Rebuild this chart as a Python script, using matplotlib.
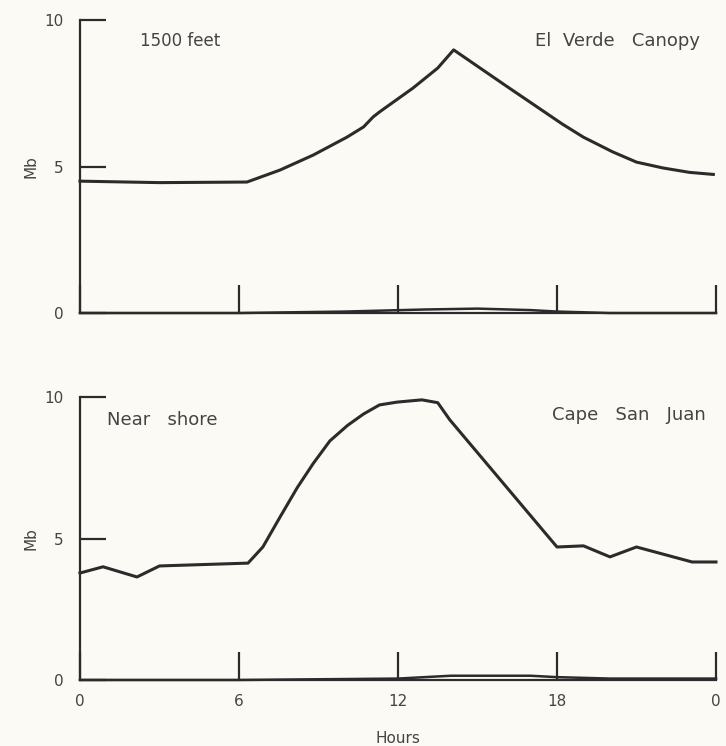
import matplotlib

matplotlib.use("Agg")

import matplotlib.pyplot as plt

# --- data (hours vs. Mb) ---
hours_top = [0, 3, 6.3, 7.55, 8.8, 10.07, 10.7, 11.06, 11.3, 12.57, 13.5, 14.1, 16, 18.2,
             19, 20.1, 21, 22, 23, 23.9]
mb_top = [4.5, 4.45, 4.47, 4.88, 5.39, 6.0, 6.35, 6.69, 6.86, 7.68, 8.36, 8.98, 7.8, 6.45,
          6.0, 5.5, 5.15, 4.95, 4.8, 4.73]
base_top_hours = [0, 6, 10, 13, 15, 17, 18, 20, 24]
base_top_mb = [0, 0, 0.05, 0.12, 0.15, 0.1, 0.05, 0, 0]

hours_bot = [0, 0.87, 2.15, 3.0, 6.34, 6.9, 7.55, 8.2, 8.8, 9.43, 10.1, 10.7, 11.3, 11.96,
             12.9, 13.5, 13.95, 18.0, 19.0, 20.0, 21.0, 23.1, 24.0]
mb_bot = [3.78, 4.0, 3.64, 4.03, 4.13, 4.7, 5.76, 6.8, 7.65, 8.45, 9.0, 9.4, 9.72, 9.82,
          9.9, 9.8, 9.2, 4.7, 4.74, 4.35, 4.7, 4.17, 4.17]
base_bot_hours = [0, 6, 12, 14, 17, 18, 20, 24]
base_bot_mb = [0, 0, 0.05, 0.15, 0.15, 0.1, 0.05, 0.05]

x_ticks = [0, 6, 12, 18, 24]
x_labels = ["0", "6", "12", "18", "0"]
y_ticks = [0, 5, 10]

ink = "#2b2b2b"
label_ink = "#444444"
paper = "#fbfaf4"

fig = plt.figure(figsize=(7.26, 7.46), dpi=100)
fig.patch.set_facecolor(paper)

ax_top = fig.add_axes([0.1102, 0.5804, 0.876, 0.3928])
ax_bot = fig.add_axes([0.1102, 0.0885, 0.876, 0.3793])

panels = [
    (ax_top, hours_top, mb_top, base_top_hours, base_top_mb),
    (ax_bot, hours_bot, mb_bot, base_bot_hours, base_bot_mb),
]

for ax, hx, hy, bx, by in panels:
    ax.set_facecolor(paper)
    ax.plot(hx, hy, color=ink, lw=2.2, solid_joinstyle="round", clip_on=False)
    ax.plot(bx, by, color=ink, lw=1.8, clip_on=False)
    ax.set_xlim(0, 24)
    ax.set_ylim(0, 10)
    ax.spines["top"].set_visible(False)
    ax.spines["right"].set_visible(False)
    for s in ("left", "bottom"):
        ax.spines[s].set_color(ink)
        ax.spines[s].set_linewidth(1.6)
    ax.set_yticks(y_ticks)
    ax.set_yticklabels([str(v) for v in y_ticks])
    ax.set_xticks(x_ticks)
    ax.tick_params(axis="y", direction="in", length=19, width=1.6, color=ink,
                   pad=12, labelsize=11, labelcolor=label_ink)
    ax.tick_params(axis="x", direction="in", length=20, width=1.6, color=ink,
                   pad=10, labelsize=11, labelcolor=label_ink)
    ax.set_ylabel("Mb", fontsize=11, color=label_ink, labelpad=4)

ax_top.set_xticklabels([])
ax_top.text(2.25, 9.3, "1500 feet", fontsize=12, color=label_ink, va="center", ha="left")
ax_top.text(23.4, 9.28, "El  Verde   Canopy", fontsize=13, color=label_ink,
            va="center", ha="right")

ax_bot.set_xticklabels(x_labels)
ax_bot.set_xlabel("Hours", fontsize=11, color=label_ink, labelpad=16)
ax_bot.text(1.0, 9.2, "Near   shore", fontsize=13, color=label_ink, va="center", ha="left")
ax_bot.text(23.6, 9.35, "Cape   San   Juan", fontsize=13, color=label_ink,
            va="center", ha="right")

fig.savefig("out.png", dpi=100, facecolor=fig.get_facecolor())
